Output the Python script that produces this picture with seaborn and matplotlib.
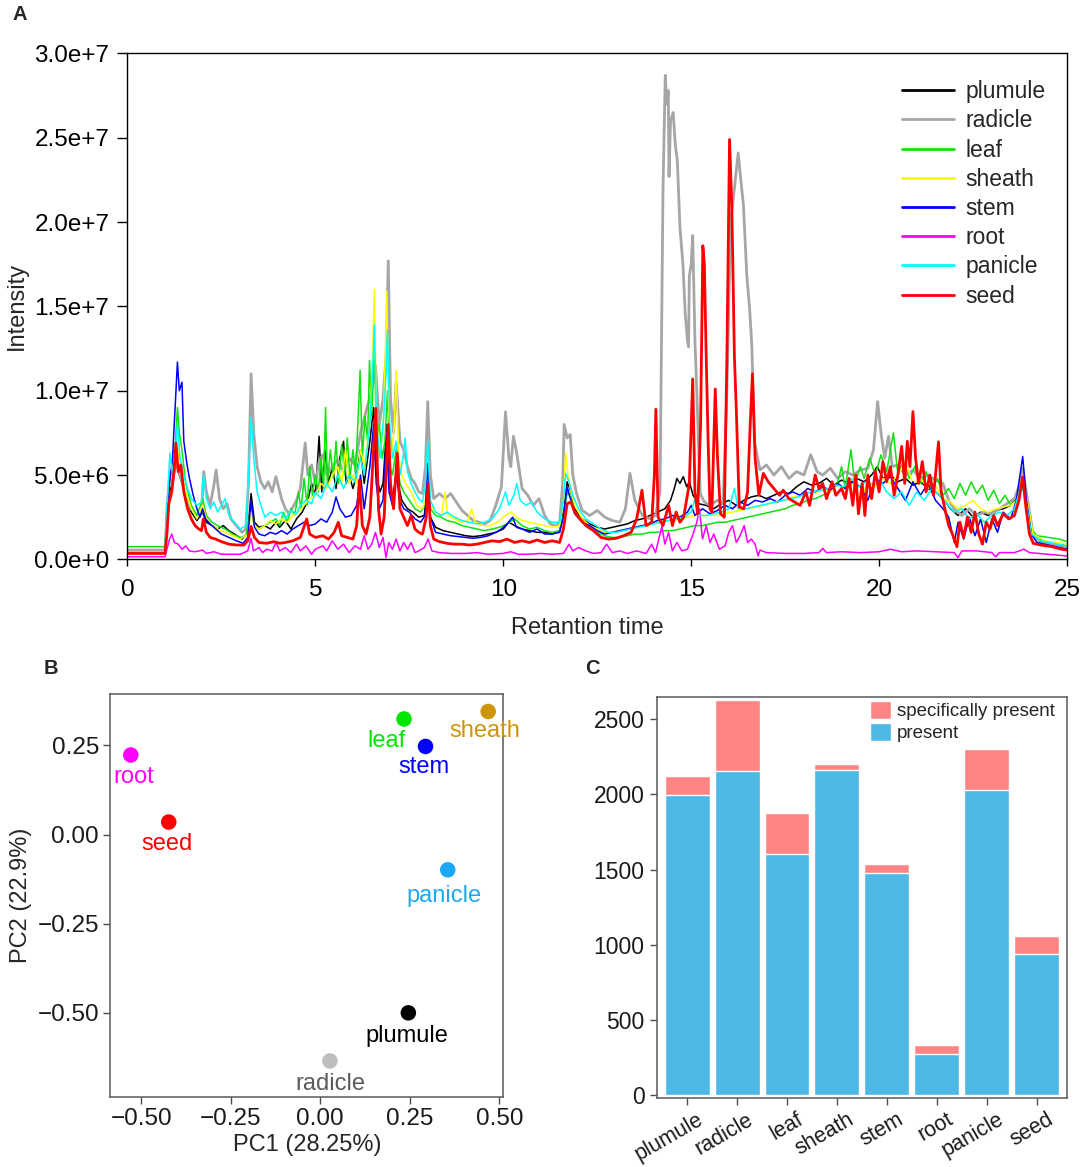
import numpy as np
import pandas as pd
import matplotlib
matplotlib.use("Agg")
import matplotlib.pyplot as plt
from matplotlib.lines import Line2D
from matplotlib.patches import Patch
from matplotlib.ticker import FuncFormatter
from matplotlib.transforms import ScaledTranslation
import seaborn as sns

sns.set_style("ticks")
plt.rcParams["font.family"] = ["Liberation Sans", "DejaVu Sans"]
plt.rcParams["axes.unicode_minus"] = True

# ---- data: panel A, chromatograms (retention time, intensity in 1e6) ----
tissues = ["plumule", "radicle", "leaf", "sheath", "stem", "root", "panicle", "seed"]

plumule = [(0, .55), (1.0, .55), (1.05, 2.5), (1.12, 4.0), (1.2, 4.5), (1.3, 6.0), (1.38, 5.0), (1.45, 4.5),
           (1.55, 3.8), (1.7, 2.8), (1.85, 2.3), (2.0, 2.8), (2.1, 2.2), (2.25, 2.0), (2.4, 1.8), (2.55, 2.0),
           (2.7, 1.7), (2.85, 1.5), (3.05, 1.2), (3.2, 1.6), (3.29, 3.9), (3.38, 2.2), (3.5, 1.9), (3.65, 2.0),
           (3.8, 1.8), (3.95, 2.2), (4.05, 1.9), (4.2, 2.3), (4.35, 1.8), (4.5, 2.4), (4.65, 2.8), (4.8, 3.5),
           (4.9, 4.5), (5.0, 3.8), (5.1, 7.3), (5.17, 4.0), (5.25, 6.5), (5.35, 4.5), (5.45, 5.5), (5.55, 4.2),
           (5.65, 6.0), (5.75, 7.0), (5.82, 4.5), (5.9, 5.0), (6.0, 4.2), (6.1, 5.0), (6.2, 6.5), (6.3, 4.5),
           (6.45, 7.0), (6.55, 9.0), (6.62, 5.0), (6.72, 4.0), (6.8, 4.5), (6.9, 8.0), (6.96, 4.5), (7.05, 3.5),
           (7.15, 5.0), (7.3, 3.5), (7.45, 3.0), (7.6, 2.8), (7.75, 2.5), (7.9, 2.6), (7.99, 4.8), (8.06, 2.5),
           (8.2, 1.9), (8.4, 1.7), (8.6, 1.6), (8.8, 1.5), (9.0, 1.4), (9.2, 1.35), (9.4, 1.4), (9.6, 1.5),
           (9.8, 1.6), (10.0, 1.8), (10.15, 2.2), (10.3, 2.0), (10.5, 1.8), (10.7, 1.7), (10.9, 1.6), (11.1, 1.6),
           (11.3, 1.5), (11.5, 1.7), (11.62, 3.0), (11.7, 4.6), (11.8, 4.0), (11.9, 3.0), (12.1, 2.4), (12.3, 2.1),
           (12.5, 1.9), (12.7, 1.8), (12.9, 1.9), (13.1, 2.0), (13.3, 2.1), (13.5, 2.3), (13.7, 2.4), (13.9, 2.6),
           (14.1, 2.8), (14.3, 3.0), (14.45, 3.5), (14.55, 4.2), (14.62, 4.8), (14.7, 4.5), (14.79, 4.9),
           (14.88, 4.3), (14.95, 4.6), (15.05, 3.8), (15.2, 3.3), (15.4, 3.2), (15.6, 3.0), (15.8, 3.3),
           (16.0, 3.5), (16.2, 3.2), (16.4, 3.5), (16.6, 3.7), (16.8, 3.8), (17.0, 3.6), (17.2, 3.8), (17.4, 4.0),
           (17.6, 3.9), (17.8, 4.3), (18.0, 4.6), (18.2, 4.4), (18.4, 4.5), (18.6, 4.8), (18.8, 4.4), (19.0, 4.7),
           (19.2, 4.5), (19.4, 4.8), (19.6, 4.6), (19.8, 5.0), (19.95, 5.5), (20.1, 4.8), (20.3, 5.0), (20.5, 4.6),
           (20.7, 4.8), (20.9, 4.4), (21.1, 4.6), (21.3, 4.2), (21.5, 4.0), (21.7, 3.6), (21.9, 3.0), (22.1, 2.6),
           (22.3, 3.0), (22.5, 2.5), (22.7, 2.8), (22.9, 2.6), (23.1, 2.9), (23.3, 3.0), (23.5, 3.2), (23.7, 3.8),
           (23.82, 5.2), (23.95, 3.3), (24.1, 1.4), (24.4, 1.0), (25.0, 0.8)]

radicle = [(0, .55), (1.0, .55), (1.05, 3.0), (1.13, 5.2), (1.2, 4.6), (1.3, 5.8), (1.4, 5.0), (1.55, 3.8),
           (1.7, 3.0), (1.85, 2.6), (1.97, 2.8), (2.03, 5.2), (2.1, 4.0), (2.2, 3.2), (2.3, 4.4), (2.36, 5.3),
           (2.45, 3.6), (2.55, 3.0), (2.65, 3.3), (2.75, 2.4), (2.9, 2.0), (3.05, 1.6), (3.15, 1.8), (3.22, 4.5),
           (3.29, 11.0), (3.36, 7.5), (3.45, 5.5), (3.55, 4.6), (3.65, 4.2), (3.75, 4.6), (3.85, 4.0), (3.95, 4.9),
           (4.02, 4.3), (4.1, 3.6), (4.2, 3.0), (4.3, 2.7), (4.4, 3.1), (4.5, 3.5), (4.6, 4.2), (4.73, 6.9),
           (4.8, 5.0), (4.9, 5.6), (5.0, 4.5), (5.1, 5.8), (5.2, 6.2), (5.3, 5.0), (5.45, 5.5), (5.6, 5.9),
           (5.75, 5.2), (5.9, 6.0), (6.05, 5.6), (6.2, 7.5), (6.35, 8.8), (6.5, 10.0), (6.6, 11.5), (6.7, 8.0),
           (6.8, 9.5), (6.88, 12.0), (6.94, 17.7), (7.0, 9.5), (7.08, 7.5), (7.15, 10.5), (7.25, 7.0), (7.35, 6.5),
           (7.45, 5.5), (7.55, 4.8), (7.65, 4.5), (7.75, 4.0), (7.85, 3.9), (7.93, 5.5), (7.99, 9.35), (8.06, 5.0),
           (8.15, 3.6), (8.3, 3.9), (8.45, 3.6), (8.6, 3.9), (8.75, 3.4), (8.9, 2.9), (9.05, 2.6), (9.2, 2.3),
           (9.35, 2.2), (9.5, 2.1), (9.65, 2.3), (9.8, 3.2), (9.95, 4.3), (10.06, 8.75), (10.15, 6.0), (10.2, 5.5),
           (10.27, 7.3), (10.35, 6.4), (10.5, 4.2), (10.65, 3.8), (10.8, 3.2), (10.95, 3.6), (11.1, 2.6),
           (11.25, 2.1), (11.4, 2.0), (11.5, 2.2), (11.58, 4.5), (11.62, 8.0), (11.7, 7.2), (11.78, 7.4),
           (11.85, 5.0), (11.95, 3.9), (12.1, 2.9), (12.3, 2.6), (12.5, 2.9), (12.7, 2.5), (12.9, 2.3), (13.1, 2.2),
           (13.25, 3.0), (13.37, 5.1), (13.5, 3.5), (13.7, 2.6), (13.9, 2.4), (14.05, 2.6), (14.17, 4.0),
           (14.25, 22.0), (14.31, 28.7), (14.35, 27.0), (14.39, 27.8), (14.41, 22.7), (14.45, 26.0), (14.52, 26.5),
           (14.58, 24.5), (14.63, 23.7), (14.7, 19.7), (14.78, 17.5), (14.84, 14.6), (14.9, 13.0), (14.93, 12.6),
           (14.95, 16.8), (15.0, 17.5), (15.04, 19.2), (15.1, 13.0), (15.15, 9.85), (15.24, 3.9), (15.35, 3.4),
           (15.5, 3.2), (15.7, 3.5), (15.85, 3.3), (15.95, 10.0), (16.05, 20.0), (16.15, 22.0), (16.25, 24.1),
           (16.32, 22.5), (16.39, 21.0), (16.48, 16.8), (16.55, 15.0), (16.61, 12.8), (16.69, 6.9), (16.83, 5.3),
           (17.0, 5.6), (17.2, 5.0), (17.4, 5.5), (17.6, 4.8), (17.8, 5.2), (18.0, 5.0), (18.18, 6.2), (18.35, 5.2),
           (18.5, 5.0), (18.7, 5.4), (18.9, 4.8), (19.1, 5.2), (19.3, 5.0), (19.5, 5.3), (19.7, 5.4), (19.85, 6.5),
           (19.96, 9.35), (20.05, 7.5), (20.15, 6.0), (20.25, 7.3), (20.35, 5.5), (20.5, 5.6), (20.7, 5.0),
           (20.9, 5.3), (21.1, 4.8), (21.3, 5.0), (21.5, 4.7), (21.7, 4.5), (21.85, 3.5), (22.0, 3.0), (22.2, 2.6),
           (22.4, 3.0), (22.6, 2.6), (22.8, 2.8), (23.0, 2.7), (23.2, 3.0), (23.4, 3.3), (23.6, 3.6), (23.75, 4.5),
           (23.82, 5.4), (23.95, 3.5), (24.1, 1.5), (24.3, 1.0), (24.6, 0.9), (25.0, 0.65)]

leaf = [(0, .75), (1.0, .75), (1.05, 2.5), (1.12, 4.5), (1.2, 5.5), (1.28, 7.0), (1.33, 9.0), (1.38, 7.5),
        (1.45, 6.5), (1.55, 4.5), (1.7, 3.2), (1.85, 2.6), (2.0, 3.6), (2.1, 2.6), (2.25, 2.2), (2.4, 2.0),
        (2.6, 1.8), (2.8, 1.5), (3.0, 1.3), (3.15, 1.4), (3.22, 2.2), (3.29, 3.0), (3.38, 2.0), (3.5, 1.8),
        (3.65, 2.0), (3.8, 2.2), (3.95, 2.4), (4.05, 2.0), (4.15, 2.8), (4.25, 2.2), (4.35, 3.0), (4.45, 2.6),
        (4.55, 4.0), (4.62, 3.0), (4.7, 4.8), (4.78, 3.2), (4.85, 5.5), (4.92, 3.8), (5.0, 5.0), (5.08, 4.0),
        (5.15, 6.0), (5.22, 4.2), (5.27, 9.0), (5.32, 4.5), (5.4, 6.5), (5.48, 4.8), (5.55, 7.0), (5.62, 4.5),
        (5.7, 6.8), (5.78, 5.0), (5.85, 7.2), (5.92, 4.8), (6.0, 6.5), (6.07, 5.0), (6.13, 8.0), (6.19, 11.2),
        (6.25, 6.0), (6.32, 8.5), (6.39, 7.0), (6.44, 11.8), (6.5, 8.5), (6.57, 12.5), (6.63, 7.0), (6.7, 8.0),
        (6.78, 6.0), (6.85, 7.0), (6.92, 10.0), (6.98, 5.5), (7.05, 5.0), (7.15, 6.5), (7.25, 4.5), (7.35, 4.0),
        (7.5, 3.5), (7.65, 3.0), (7.8, 2.8), (7.92, 3.2), (7.99, 5.0), (8.06, 3.0), (8.2, 2.6), (8.35, 2.5),
        (8.5, 2.3), (8.7, 2.2), (8.9, 2.0), (9.1, 1.9), (9.3, 1.8), (9.5, 1.7), (9.7, 1.8), (9.9, 1.9),
        (10.1, 2.1), (10.3, 2.4), (10.5, 2.0), (10.7, 1.8), (10.9, 1.9), (11.1, 1.7), (11.3, 1.6), (11.5, 1.7),
        (11.62, 2.8), (11.7, 4.0), (11.8, 3.6), (11.9, 2.8), (12.1, 2.2), (12.3, 1.8), (12.5, 1.6), (12.7, 1.4),
        (12.9, 1.3), (13.1, 1.3), (13.3, 1.4), (13.5, 1.5), (13.7, 1.5), (13.9, 1.6), (14.1, 1.6), (14.3, 1.7),
        (14.5, 1.7), (14.7, 1.8), (14.9, 1.9), (15.1, 2.0), (15.3, 2.0), (15.5, 2.1), (15.7, 2.2), (15.9, 2.2),
        (16.1, 2.3), (16.3, 2.4), (16.5, 2.5), (16.7, 2.6), (16.9, 2.7), (17.1, 2.8), (17.3, 2.9), (17.5, 3.0),
        (17.7, 3.2), (17.9, 3.3), (18.1, 3.5), (18.3, 3.6), (18.5, 3.8), (18.7, 4.0), (18.9, 4.6), (19.0, 5.5),
        (19.1, 4.2), (19.25, 6.5), (19.35, 4.5), (19.5, 5.5), (19.6, 4.8), (19.75, 6.0), (19.9, 5.0),
        (20.05, 6.2), (20.2, 5.2), (20.38, 7.5), (20.5, 5.0), (20.65, 5.8), (20.8, 4.8), (20.95, 5.5),
        (21.1, 4.5), (21.25, 5.2), (21.4, 4.2), (21.55, 4.8), (21.7, 3.8), (21.85, 4.2), (22.0, 3.6),
        (22.15, 4.5), (22.3, 3.8), (22.45, 4.6), (22.6, 3.9), (22.75, 4.4), (22.9, 3.5), (23.05, 4.1),
        (23.2, 3.3), (23.35, 3.8), (23.5, 3.2), (23.65, 3.5), (23.8, 4.5), (23.9, 3.4), (24.05, 1.8),
        (24.2, 1.4), (24.5, 1.3), (24.8, 1.2), (25.0, 1.05)]

sheath = [(0, .45), (1.0, .45), (1.05, 2.5), (1.12, 4.5), (1.2, 5.2), (1.3, 7.0), (1.38, 6.0), (1.45, 5.0),
          (1.55, 4.0), (1.7, 3.0), (1.85, 2.4), (2.0, 3.2), (2.1, 2.4), (2.25, 2.0), (2.4, 1.8), (2.6, 1.6),
          (2.8, 1.4), (3.0, 1.2), (3.2, 1.5), (3.29, 2.8), (3.38, 2.0), (3.5, 1.8), (3.65, 2.0), (3.8, 2.3),
          (3.95, 2.1), (4.1, 2.4), (4.25, 2.2), (4.4, 2.6), (4.55, 2.8), (4.7, 3.2), (4.85, 3.6), (5.0, 3.8),
          (5.15, 4.5), (5.3, 4.2), (5.45, 5.0), (5.6, 5.5), (5.7, 4.5), (5.8, 6.5), (5.9, 4.5), (6.0, 5.0),
          (6.1, 4.5), (6.2, 6.5), (6.3, 5.5), (6.45, 8.0), (6.52, 12.0), (6.57, 16.0), (6.62, 9.0), (6.7, 6.0),
          (6.8, 7.5), (6.86, 12.0), (6.9, 15.9), (6.95, 9.0), (7.02, 6.0), (7.1, 8.0), (7.15, 11.2), (7.22, 6.0),
          (7.3, 5.0), (7.4, 4.5), (7.55, 4.0), (7.7, 3.2), (7.85, 3.0), (7.95, 3.6), (8.0, 5.5), (8.06, 3.2),
          (8.2, 2.8), (8.35, 2.6), (8.45, 4.0), (8.52, 2.6), (8.7, 2.4), (8.9, 2.2), (9.05, 2.3), (9.16, 3.0),
          (9.25, 2.2), (9.45, 2.0), (9.65, 2.0), (9.85, 2.2), (10.05, 2.6), (10.2, 2.8), (10.35, 2.5),
          (10.5, 2.3), (10.7, 2.2), (10.9, 2.1), (11.1, 2.0), (11.3, 1.9), (11.5, 2.0), (11.6, 3.5),
          (11.66, 6.3), (11.72, 5.0), (11.8, 4.0), (11.9, 3.2), (12.1, 2.4), (12.3, 2.0), (12.5, 1.8),
          (12.7, 1.6), (12.9, 1.6), (13.1, 1.7), (13.3, 1.8), (13.5, 1.9), (13.7, 2.0), (13.9, 2.1), (14.1, 2.2),
          (14.3, 2.3), (14.5, 2.3), (14.7, 2.4), (14.9, 2.5), (15.1, 2.6), (15.3, 2.6), (15.5, 2.6), (15.7, 2.6),
          (15.9, 2.7), (16.1, 2.8), (16.3, 2.9), (16.5, 3.0), (16.7, 3.1), (16.9, 3.2), (17.1, 3.3), (17.3, 3.4),
          (17.5, 3.5), (17.7, 3.7), (17.9, 3.8), (18.1, 4.0), (18.3, 3.9), (18.5, 4.2), (18.7, 4.0), (18.9, 4.4),
          (19.1, 4.1), (19.3, 4.5), (19.5, 3.5), (19.7, 4.6), (19.9, 4.3), (20.1, 4.8), (20.3, 4.5), (20.5, 5.0),
          (20.7, 5.8), (20.9, 4.5), (21.1, 4.8), (21.3, 4.2), (21.5, 4.4), (21.7, 3.6), (21.9, 3.4), (22.1, 3.0),
          (22.3, 3.2), (22.5, 3.5), (22.7, 3.0), (22.9, 2.8), (23.1, 3.0), (23.3, 3.1), (23.5, 3.2), (23.7, 3.6),
          (23.82, 5.0), (23.95, 3.3), (24.1, 1.5), (24.4, 1.1), (25.0, 0.9)]

stem = [(0, .4), (1.0, .4), (1.05, 2.0), (1.12, 4.5), (1.2, 6.0), (1.28, 9.5), (1.33, 11.7), (1.38, 10.0),
        (1.45, 10.5), (1.5, 7.0), (1.58, 5.7), (1.65, 4.8), (1.75, 3.8), (1.85, 3.0), (1.93, 2.5), (2.0, 3.0),
        (2.08, 2.4), (2.2, 2.1), (2.35, 1.8), (2.5, 1.5), (2.7, 1.3), (2.9, 1.1), (3.08, 0.95), (3.2, 1.3),
        (3.29, 3.5), (3.38, 1.9), (3.5, 1.5), (3.65, 1.4), (3.8, 1.6), (3.95, 1.5), (4.1, 1.7), (4.25, 1.5),
        (4.4, 1.8), (4.55, 2.0), (4.7, 2.2), (4.85, 2.0), (5.0, 2.1), (5.15, 2.4), (5.3, 2.2), (5.45, 2.8),
        (5.55, 3.7), (5.65, 3.0), (5.8, 2.5), (5.95, 2.6), (6.1, 3.2), (6.2, 5.0), (6.3, 3.0), (6.45, 5.5),
        (6.55, 8.0), (6.62, 4.5), (6.7, 3.0), (6.8, 3.5), (6.9, 7.5), (6.96, 4.0), (7.05, 3.2), (7.15, 5.0),
        (7.25, 3.5), (7.35, 3.0), (7.5, 2.8), (7.65, 2.4), (7.8, 2.2), (7.92, 2.6), (7.99, 5.7), (8.06, 2.5),
        (8.2, 1.6), (8.4, 1.5), (8.6, 1.4), (8.8, 1.35), (9.0, 1.3), (9.2, 1.25), (9.4, 1.3), (9.6, 1.4),
        (9.8, 1.6), (9.95, 1.8), (10.1, 2.1), (10.25, 2.5), (10.35, 1.9), (10.5, 1.8), (10.7, 1.6), (10.9, 1.8),
        (11.1, 1.5), (11.3, 1.5), (11.5, 1.6), (11.6, 2.5), (11.7, 4.3), (11.8, 3.5), (11.9, 2.7), (12.1, 2.2),
        (12.3, 2.0), (12.5, 1.7), (12.7, 1.5), (12.9, 1.6), (13.1, 1.7), (13.3, 1.8), (13.5, 1.9), (13.7, 2.0),
        (13.9, 2.1), (14.1, 2.3), (14.3, 2.4), (14.5, 2.6), (14.7, 2.5), (14.9, 2.8), (15.0, 3.2), (15.1, 2.6),
        (15.3, 3.0), (15.5, 2.7), (15.7, 2.9), (15.9, 3.2), (16.1, 3.0), (16.3, 3.4), (16.5, 3.2), (16.7, 3.5),
        (16.9, 3.4), (17.1, 3.6), (17.3, 3.4), (17.5, 3.8), (17.7, 4.0), (17.9, 3.8), (18.1, 4.2), (18.3, 4.0),
        (18.5, 4.3), (18.7, 4.1), (18.9, 4.5), (19.1, 4.2), (19.3, 4.6), (19.5, 4.3), (19.7, 3.5), (19.9, 4.8),
        (20.1, 4.5), (20.3, 4.9), (20.5, 4.2), (20.7, 3.5), (20.9, 4.6), (21.1, 3.8), (21.3, 4.5), (21.5, 3.5),
        (21.7, 3.0), (21.85, 2.5), (22.0, 1.0), (22.1, 2.2), (22.25, 1.2), (22.4, 2.5), (22.55, 1.4),
        (22.7, 2.4), (22.85, 1.0), (23.0, 2.4), (23.15, 1.6), (23.3, 2.8), (23.5, 2.4), (23.65, 3.5),
        (23.82, 6.1), (23.92, 3.5), (24.05, 1.5), (24.2, 1.0), (24.6, 0.8), (25.0, 0.6)]

root = [(0, .15), (1.0, .15), (1.05, .6), (1.12, 1.2), (1.18, 1.5), (1.25, 1.0), (1.35, .9), (1.45, .6),
        (1.55, .8), (1.65, .5), (1.8, .45), (2.0, .55), (2.1, .35), (2.3, .45), (2.5, .3), (2.8, .3), (3.0, .3),
        (3.2, .5), (3.29, 1.25), (3.35, .5), (3.5, .7), (3.6, .4), (3.7, .6), (3.85, .5), (3.95, 1.0),
        (4.05, .5), (4.2, .7), (4.35, .4), (4.5, .9), (4.6, .5), (4.75, .8), (4.9, .3), (5.0, .6), (5.2, .8),
        (5.3, .5), (5.45, 1.1), (5.6, .6), (5.75, .9), (5.9, .4), (6.05, .8), (6.2, .6), (6.3, 1.4), (6.4, .6),
        (6.5, .9), (6.6, 1.6), (6.7, .7), (6.8, 1.3), (6.88, .1), (6.95, 1.0), (7.05, .6), (7.15, 1.2),
        (7.25, .5), (7.35, 1.0), (7.45, .6), (7.55, 1.0), (7.65, .4), (7.75, .5), (7.9, .7), (8.0, 1.2),
        (8.1, .5), (8.3, .4), (8.6, .35), (9.0, .35), (9.3, .4), (9.6, .3), (10.0, .35), (10.2, .45), (10.4, .3),
        (10.7, .3), (11.0, .35), (11.3, .3), (11.6, .35), (11.75, .9), (11.85, .5), (12.0, .7), (12.2, .5),
        (12.4, .35), (12.6, .4), (12.75, .9), (12.9, .4), (13.1, .5), (13.3, .35), (13.55, .5), (13.8, .35),
        (13.95, .9), (14.05, .4), (14.22, 1.95), (14.3, .9), (14.4, 1.6), (14.5, .5), (14.62, 1.0), (14.75, .5),
        (14.9, .6), (15.05, 1.5), (15.15, 2.2), (15.22, 3.0), (15.3, 1.2), (15.4, 2.0), (15.5, 1.0), (15.6, 1.5),
        (15.75, .6), (15.9, .8), (16.0, 1.6), (16.1, 2.0), (16.2, 1.0), (16.3, 1.4), (16.41, 2.0), (16.5, 1.0),
        (16.6, 1.2), (16.7, .9), (16.78, .2), (16.83, .55), (17.0, .4), (17.5, .35), (18.0, .35), (18.4, .4),
        (18.5, .65), (18.6, .4), (19.0, .45), (19.5, .4), (20.0, .45), (20.3, .6), (20.6, .45), (21.0, .5),
        (21.5, .45), (22.0, .4), (22.1, .1), (22.2, .5), (22.6, .5), (23.0, .4), (23.1, .15), (23.2, .4),
        (23.6, .4), (23.85, .6), (24.0, .4), (24.5, .3), (25.0, .2)]

panicle = [(0, .4), (1.0, .4), (1.05, 3.0), (1.13, 6.3), (1.2, 5.0), (1.28, 6.5), (1.33, 8.0), (1.4, 6.0),
           (1.5, 5.0), (1.6, 4.2), (1.7, 3.6), (1.85, 3.2), (1.97, 3.4), (2.02, 5.0), (2.1, 3.6), (2.2, 3.0),
           (2.3, 3.4), (2.4, 2.8), (2.5, 3.2), (2.6, 3.6), (2.7, 2.6), (2.85, 2.2), (3.0, 1.8), (3.15, 2.0),
           (3.22, 5.0), (3.29, 8.4), (3.36, 6.0), (3.45, 4.0), (3.55, 3.2), (3.66, 2.5), (3.8, 2.8), (3.95, 2.6),
           (4.1, 2.8), (4.2, 2.4), (4.35, 2.9), (4.5, 2.7), (4.6, 3.2), (4.75, 3.5), (4.9, 3.3), (5.0, 4.0),
           (5.15, 3.6), (5.3, 4.5), (5.45, 4.0), (5.6, 5.0), (5.75, 4.2), (5.9, 5.0), (6.05, 4.6), (6.2, 6.0),
           (6.3, 5.0), (6.45, 8.0), (6.52, 11.0), (6.57, 13.9), (6.63, 8.0), (6.72, 6.0), (6.82, 8.5),
           (6.88, 11.0), (6.92, 13.6), (6.98, 8.0), (7.05, 6.0), (7.15, 7.0), (7.25, 5.0), (7.33, 6.0),
           (7.39, 7.2), (7.45, 5.2), (7.55, 4.5), (7.65, 4.0), (7.75, 3.6), (7.85, 3.4), (7.93, 4.5), (7.99, 7.0),
           (8.06, 3.5), (8.2, 2.8), (8.35, 2.6), (8.5, 2.8), (8.7, 2.5), (8.9, 2.3), (9.1, 2.2), (9.3, 2.1),
           (9.5, 2.2), (9.7, 2.4), (9.9, 3.0), (10.06, 4.0), (10.15, 3.2), (10.28, 3.8), (10.36, 4.5),
           (10.45, 3.5), (10.6, 3.2), (10.75, 3.4), (10.9, 2.8), (11.1, 2.4), (11.3, 2.2), (11.5, 2.2),
           (11.6, 3.5), (11.66, 5.1), (11.75, 4.6), (11.85, 3.8), (12.0, 3.0), (12.2, 2.4), (12.4, 2.1),
           (12.6, 1.8), (12.8, 1.6), (13.0, 1.6), (13.2, 1.7), (13.4, 1.8), (13.6, 1.9), (13.8, 2.0), (14.0, 2.1),
           (14.2, 2.2), (14.4, 2.3), (14.6, 2.4), (14.8, 2.5), (15.0, 2.8), (15.1, 3.6), (15.2, 2.6), (15.4, 2.6),
           (15.6, 2.7), (15.8, 2.8), (16.0, 3.0), (16.15, 4.2), (16.25, 3.0), (16.45, 3.0), (16.65, 3.1),
           (16.85, 3.2), (17.05, 3.3), (17.25, 3.4), (17.45, 3.5), (17.65, 3.6), (17.85, 3.7), (18.05, 3.9),
           (18.25, 4.0), (18.45, 4.1), (18.65, 4.2), (18.85, 4.4), (19.05, 4.3), (19.25, 4.8), (19.45, 4.3),
           (19.65, 4.6), (19.85, 4.4), (20.05, 4.6), (20.2, 4.0), (20.4, 3.6), (20.6, 4.0), (20.8, 3.2),
           (21.0, 4.0), (21.2, 3.5), (21.4, 4.2), (21.6, 3.8), (21.8, 3.3), (22.0, 2.8), (22.2, 3.0), (22.4, 2.4),
           (22.6, 2.7), (22.8, 2.2), (23.0, 2.6), (23.2, 2.8), (23.4, 2.6), (23.6, 3.0), (23.8, 4.5),
           (23.92, 3.2), (24.05, 1.5), (24.3, 1.1), (25.0, 0.8)]

seed = [(0, .35), (1.0, .35), (1.05, 1.5), (1.1, 3.3), (1.18, 4.0), (1.25, 5.5), (1.29, 6.9), (1.35, 5.2),
        (1.42, 5.6), (1.5, 4.0), (1.6, 3.0), (1.7, 2.4), (1.8, 2.0), (1.9, 1.8), (1.97, 1.7), (2.02, 2.4),
        (2.1, 1.6), (2.2, 1.3), (2.35, 1.2), (2.5, 1.05), (2.7, 0.9), (2.9, 0.85), (3.1, 0.85), (3.2, 1.1),
        (3.29, 1.95), (3.38, 1.3), (3.5, 1.0), (3.7, 0.95), (3.9, 1.05), (4.05, 0.95), (4.2, 1.0), (4.4, 1.1),
        (4.6, 1.3), (4.77, 2.4), (4.85, 1.5), (5.0, 1.3), (5.2, 1.4), (5.35, 1.2), (5.5, 1.6), (5.61, 2.2),
        (5.7, 1.4), (5.85, 1.3), (6.0, 1.2), (6.1, 2.0), (6.17, 4.7), (6.25, 2.0), (6.35, 1.5), (6.45, 2.5),
        (6.55, 6.5), (6.61, 8.95), (6.68, 3.0), (6.75, 1.5), (6.83, 2.5), (6.9, 6.0), (6.94, 8.0), (7.0, 4.5),
        (7.08, 3.0), (7.18, 6.3), (7.25, 3.0), (7.35, 2.5), (7.45, 2.0), (7.55, 2.6), (7.65, 1.8), (7.75, 1.6),
        (7.85, 1.5), (7.95, 2.5), (8.0, 4.5), (8.06, 2.0), (8.15, 1.2), (8.3, 1.05), (8.5, 0.95), (8.7, 0.9),
        (8.9, 0.9), (9.1, 0.85), (9.3, 0.9), (9.5, 1.0), (9.7, 1.1), (9.9, 1.05), (10.1, 1.2), (10.3, 1.0),
        (10.5, 1.1), (10.7, 1.0), (10.9, 1.15), (11.1, 1.0), (11.3, 1.1), (11.5, 1.0), (11.6, 1.8), (11.7, 3.3),
        (11.8, 3.4), (11.9, 2.8), (12.0, 2.5), (12.2, 2.0), (12.4, 1.7), (12.6, 1.3), (12.8, 1.2), (13.0, 1.25),
        (13.2, 1.4), (13.4, 1.6), (13.55, 2.4), (13.69, 4.1), (13.8, 2.0), (13.95, 2.2), (14.02, 5.0),
        (14.06, 8.9), (14.12, 2.5), (14.25, 2.0), (14.4, 3.2), (14.5, 2.0), (14.6, 2.8), (14.7, 2.2), (14.8, 2.5),
        (14.95, 4.5), (15.04, 10.7), (15.1, 4.0), (15.17, 2.7), (15.25, 8.0), (15.31, 18.6), (15.35, 17.5),
        (15.39, 13.0), (15.45, 7.0), (15.5, 3.0), (15.55, 2.8), (15.64, 10.1), (15.7, 6.0), (15.78, 2.7),
        (15.88, 2.5), (15.95, 12.0), (16.02, 24.9), (16.08, 21.0), (16.15, 12.0), (16.2, 8.9), (16.28, 3.1),
        (16.4, 3.0), (16.5, 4.0), (16.57, 8.0), (16.63, 11.0), (16.7, 6.0), (16.8, 3.8), (16.92, 5.1),
        (17.05, 4.6), (17.2, 4.2), (17.35, 3.8), (17.45, 4.1), (17.6, 3.6), (17.75, 3.4), (17.9, 3.2),
        (18.05, 4.0), (18.15, 3.2), (18.3, 5.0), (18.4, 4.2), (18.5, 4.5), (18.6, 3.6), (18.75, 4.6),
        (18.85, 3.8), (19.0, 4.2), (19.1, 3.6), (19.2, 4.8), (19.3, 3.2), (19.38, 5.0), (19.45, 2.7),
        (19.55, 4.5), (19.62, 2.6), (19.7, 5.0), (19.8, 3.6), (19.9, 5.2), (20.0, 4.0), (20.1, 5.8), (20.2, 4.6),
        (20.3, 5.5), (20.4, 3.8), (20.5, 5.0), (20.6, 6.7), (20.68, 4.5), (20.75, 7.0), (20.82, 5.5),
        (20.9, 8.76), (20.97, 6.0), (21.05, 4.5), (21.15, 5.8), (21.25, 4.0), (21.35, 5.0), (21.45, 3.8),
        (21.52, 5.5), (21.58, 6.97), (21.65, 4.0), (21.75, 3.0), (21.85, 2.0), (21.95, 1.5), (22.07, 0.75),
        (22.15, 2.2), (22.25, 1.3), (22.35, 2.5), (22.45, 1.6), (22.55, 2.8), (22.65, 1.5), (22.75, 0.9),
        (22.85, 2.2), (22.95, 1.8), (23.05, 2.6), (23.15, 2.0), (23.3, 2.7), (23.45, 2.4), (23.6, 2.6),
        (23.72, 3.5), (23.82, 4.9), (23.9, 3.2), (24.0, 1.5), (24.1, 0.95), (24.3, 0.85), (24.6, 0.75),
        (24.85, 0.6), (25.0, 0.55)]

line_colors = ["#000000", "#A6A6A6", "#11E011", "#FFFF00", "#0000FF", "#FF00FF", "#00FFFF", "#FF0000"]
line_widths = [1.1, 2.0, 1.1, 1.1, 1.1, 1.1, 1.1, 2.0]

# ---- data: panel B, PCA ----
pca_names = ["root", "seed", "leaf", "stem", "sheath", "panicle", "plumule", "radicle"]
pc1 = [-0.529, -0.423, 0.234, 0.294, 0.469, 0.356, 0.246, 0.027]
pc2 = [0.223, 0.035, 0.324, 0.247, 0.345, -0.099, -0.500, -0.635]
pca_colors = ["#FF00FF", "#FF0000", "#00E600", "#0000FF", "#CD950C", "#1CA9F4", "#000000", "#BEBEBE"]
text_colors = ["#FF00FF", "#FF0000", "#00E600", "#0000FF", "#CD950C", "#1CA9F4", "#000000", "#5A5A5A"]
label_offsets = [(2, -15.5), (-1, -16), (-12.5, -15.5), (-1, -14.5), (-2.5, -14), (-2.5, -18.5),
                 (-1, -16.5), (0, -16.5)]

# ---- data: panel C, counts ----
bar_names = ["plumule", "radicle", "leaf", "sheath", "stem", "root", "panicle", "seed"]
present = [1995, 2154, 1605, 2165, 1480, 272, 2031, 937]
specific = [130, 476, 273, 34, 60, 62, 272, 118]

fig = plt.figure(figsize=(10.8, 11.67), dpi=100)

# ================= panel A =================
axA = fig.add_axes([0.1180, 0.5207, 0.8700, 0.4335])
for name, col, lw in zip(tissues, line_colors, line_widths):
    pts = np.array(globals()[name], dtype=float)
    sns.lineplot(x=pts[:, 0], y=pts[:, 1] * 1e6, color=col, lw=lw, ax=axA,
                 estimator=None, sort=False)
axA.set_xlim(0, 25)
axA.set_ylim(0, 3.0e7)
axA.set_xticks([0, 5, 10, 15, 20, 25])
axA.set_yticks(np.arange(0, 3.01e7, 5e6))
axA.yaxis.set_major_formatter(FuncFormatter(lambda v, p: f"{v:.1e}".replace("e+0", "e+")))
axA.tick_params(axis="y", length=7, width=1, pad=6, labelsize=17.5, colors="black")
axA.tick_params(axis="x", length=5, width=1, pad=9, labelsize=17.5, colors="black")
for s in axA.spines.values():
    s.set_linewidth(1.0)
    s.set_color("black")
axA.set_xlabel("Retantion time", fontsize=17)
axA.xaxis.set_label_coords(0.489, -0.113)
axA.set_ylabel("Intensity", fontsize=17)
axA.yaxis.set_label_coords(-0.106, 0.5)
handles = [Line2D([0], [0], color=c, lw=2) for c in line_colors]
axA.legend(handles, tissues, loc="upper left", bbox_to_anchor=(0.824, 0.947), frameon=False,
           fontsize=16.5, borderpad=0, borderaxespad=0, handlelength=2.27, handletextpad=0.52,
           labelspacing=0.27)

# ================= panel B =================
axB = fig.add_axes([0.1020, 0.0600, 0.3641, 0.3453])
sns.scatterplot(x=pc1, y=pc2, hue=pca_names, palette=dict(zip(pca_names, pca_colors)),
                s=125, linewidth=0, legend=False, ax=axB)
for nm, x, y, tc, off in zip(pca_names, pc1, pc2, text_colors, label_offsets):
    axB.annotate(nm, (x, y), xytext=off, textcoords="offset points", ha="center", va="center",
                 color=tc, fontsize=17)
axB.set_xlim(-0.5866, 0.5114)
axB.set_ylim(-0.736, 0.394)
axB.set_xticks([-0.5, -0.25, 0, 0.25, 0.5])
axB.set_yticks([-0.5, -0.25, 0, 0.25])
axB.xaxis.set_major_formatter(FuncFormatter(lambda v, p: f"{v:.2f}".replace("-", "\u2212")))
axB.yaxis.set_major_formatter(FuncFormatter(lambda v, p: f"{v:.2f}".replace("-", "\u2212")))
axB.tick_params(length=5, width=1, pad=3, labelsize=17.5, colors="#4D4D4D", labelcolor="#1A1A1A")
for s in axB.spines.values():
    s.set_linewidth(1.1)
    s.set_color("#595959")
axB.set_xlabel("PC1 (28.25%)", fontsize=17, labelpad=3)
axB.set_ylabel("PC2 (22.9%)", fontsize=17, labelpad=4)

# ================= panel C =================
axC = fig.add_axes([0.6084, 0.0591, 0.3794, 0.3439])
totals = [p + s for p, s in zip(present, specific)]
pink, blue = "#FF8585", "#4EB9E5"
sns.barplot(x=bar_names, y=totals, color=pink, saturation=1, width=0.9, edgecolor="white",
            linewidth=1, ax=axC)
sns.barplot(x=bar_names, y=present, color=blue, saturation=1, width=0.9, edgecolor="white",
            linewidth=1, ax=axC)
axC.set_xlim(-0.6, 7.6)
axC.set_ylim(-20, 2650)
axC.set_yticks([0, 500, 1000, 1500, 2000, 2500])
axC.tick_params(axis="y", length=5, width=1, pad=4, labelsize=16.5, colors="#4D4D4D",
                labelcolor="#1A1A1A")
axC.tick_params(axis="x", length=5, width=1, pad=3, labelsize=15.5, colors="#4D4D4D",
                labelcolor="#1A1A1A")
shift = ScaledTranslation(7 / 72, 0, fig.dpi_scale_trans)
for lab in axC.get_xticklabels():
    lab.set_rotation(30)
    lab.set_ha("right")
    lab.set_va("top")
    lab.set_rotation_mode("anchor")
    lab.set_transform(lab.get_transform() + shift)
for s in axC.spines.values():
    s.set_linewidth(1.1)
    s.set_color("#595959")
axC.set_xlabel("")
axC.set_ylabel("")
leg_handles = [Patch(facecolor=pink, edgecolor="white"), Patch(facecolor=blue, edgecolor="white")]
axC.legend(leg_handles, ["specifically present", "present"], loc="upper left",
           bbox_to_anchor=(0.519, 0.99), frameon=False, fontsize=13.5, borderpad=0, borderaxespad=0,
           handlelength=1.15, handleheight=1.15, handletextpad=0.3, labelspacing=0.12)

# panel letters
fig.text(20 / 1080, 1 - 14 / 1167, "A", fontsize=14.5, fontweight="bold", ha="center", va="center")
fig.text(51 / 1080, 1 - 668 / 1167, "B", fontsize=14.5, fontweight="bold", ha="center", va="center")
fig.text(592 / 1080, 1 - 668 / 1167, "C", fontsize=14.5, fontweight="bold", ha="center", va="center")

fig.savefig("out.png", dpi=100)
